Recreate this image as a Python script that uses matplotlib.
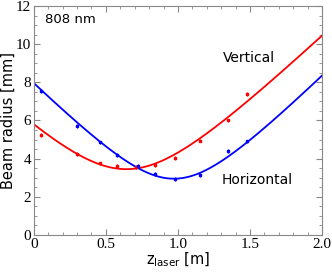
import numpy as np
import matplotlib
matplotlib.use("Agg")
import matplotlib.pyplot as plt
from matplotlib.ticker import MultipleLocator, FuncFormatter

# Measured points (z in m, radius in mm)
z_vert = [0.05, 0.30, 0.46, 0.58, 0.71, 0.84, 0.98, 1.15, 1.35, 1.48]
w_vert = [5.25, 4.25, 3.75, 3.60, 3.55, 3.65, 4.05, 4.95, 6.00, 7.40]
z_hor = [0.05, 0.30, 0.46, 0.58, 0.72, 0.84, 0.98, 1.15, 1.35, 1.48]
w_hor = [7.55, 5.70, 4.85, 4.20, 3.60, 3.20, 2.95, 3.15, 4.40, 4.90]

# Fit parameters: waist w0 [mm], waist position z0 [m], Rayleigh range zR [m]
fit_vert = (3.45, 0.642, 0.475)
fit_hor = (2.95, 0.972, 0.388)

plt.rcParams["font.family"] = "DejaVu Sans"

fig = plt.figure(figsize=(3.32, 2.72), dpi=100)
ax = fig.add_axes([0.102, 0.136, 0.868, 0.842])

z = np.linspace(0, 2.0, 300)
for (w0, z0, zr), zs, ws, c in [(fit_vert, z_vert, w_vert, "#ff0000"),
                               (fit_hor, z_hor, w_hor, "#0000ff")]:
    ax.plot(z, w0 * np.sqrt(1 + ((z - z0) / zr) ** 2), color=c, lw=1.3)
    ax.errorbar(zs, ws, yerr=0.1, fmt="s", ms=2.0, color=c, elinewidth=0.8,
                capsize=0)

ax.set_xlim(0, 2.0)
ax.set_ylim(0, 12)
ax.xaxis.set_major_locator(MultipleLocator(0.5))
ax.xaxis.set_minor_locator(MultipleLocator(0.1))
ax.yaxis.set_major_locator(MultipleLocator(2))
ax.yaxis.set_minor_locator(MultipleLocator(0.5))
ax.xaxis.set_major_formatter(FuncFormatter(
    lambda v, p: "0" if v == 0 else f"{v:.1f}"))
ax.tick_params(which="both", direction="in", top=True, right=True,
               color="#888888", labelsize=11, pad=2,
               labelfontfamily="Liberation Serif")
ax.tick_params(which="major", length=4)
ax.tick_params(which="minor", length=2)
for s in ax.spines.values():
    s.set_color("#888888")

ax.set_xlabel(r"z$_{\mathregular{laser}}$ [m]", fontsize=10.5, labelpad=0)
ax.set_ylabel("Beam radius [mm]", fontsize=10.5, labelpad=0)

ax.text(0.08, 11.3, "808 nm", fontsize=9.5, va="center")
ax.text(1.49, 9.3, "Vertical", fontsize=10, ha="center", va="center")
ax.text(1.55, 2.9, "Horizontal", fontsize=10, ha="center", va="center")

fig.savefig("out.png", dpi=100)
